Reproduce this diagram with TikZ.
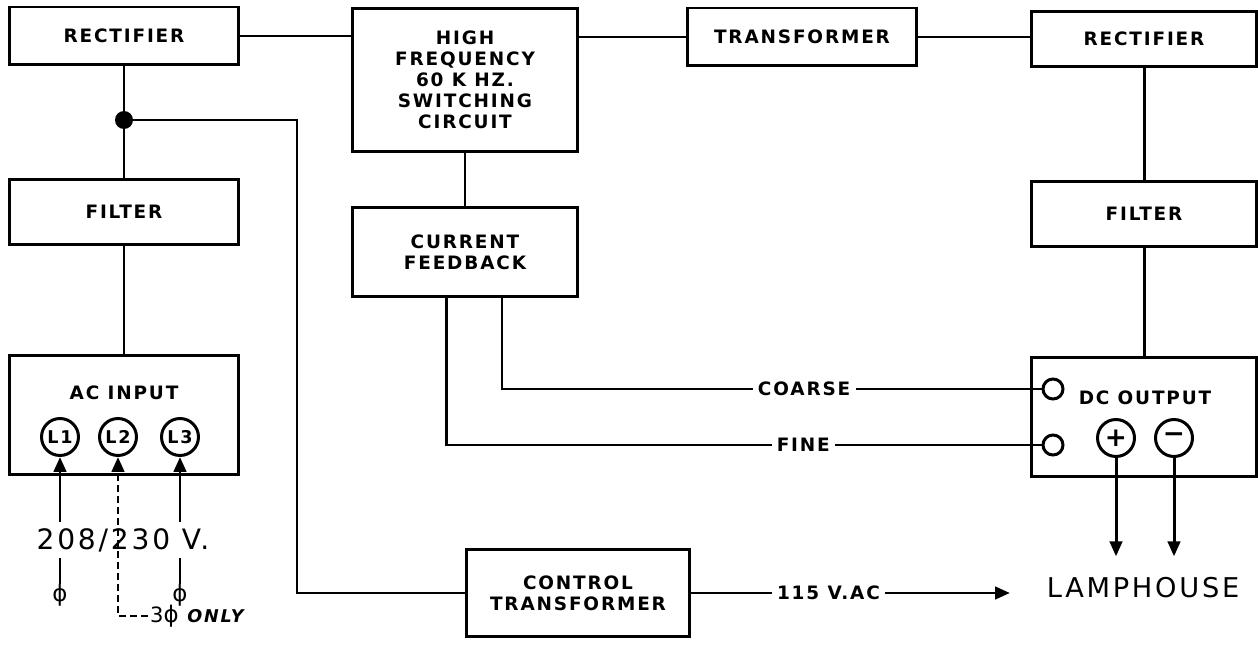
\documentclass[tikz,border=0pt]{standalone}
\usepackage{fontspec}
\setmainfont{DejaVu Sans}[LetterSpace=10]
\usepackage{tikz}
\usetikzlibrary{arrows.meta}
\newcommand{\lbl}{\bfseries\fontsize{10.5}{12}\selectfont}
\tikzstyle{block} = [rectangle, draw=black, line width=1.7pt, align=center, inner sep=0pt, font=\lbl]
\tikzstyle{wire} = [line width=1.7pt]
\tikzstyle{arrow} = [line width=1.7pt, -{Triangle[length=0.3cm, width=0.25cm]}]
\tikzstyle{term} = [circle, draw=black, line width=1.7pt, inner sep=0pt, minimum size=0.74cm, font=\bfseries\fontsize{10}{10}\selectfont]
\tikzstyle{tap} = [circle, draw=black, fill=white, line width=1.7pt, inner sep=0pt, minimum size=0.4cm]
\tikzstyle{tag} = [fill=white, inner sep=3pt, font=\lbl]
\tikzstyle{phase} = [inner sep=0pt, font=\fontsize{13}{13}\selectfont]

\begin{document}
\begin{tikzpicture}[x=0.02cm, y=-0.02cm]
	\useasboundingbox (0,0) rectangle (1258,645);
	% input side
	\node (rectl) [block, minimum width=4.6cm, minimum height=1.16cm] at (124,36) {RECTIFIER};
	\node (filtl) [block, minimum width=4.6cm, minimum height=1.3cm] at (124,212) {FILTER};
	\node (acin) [block, minimum width=4.6cm, minimum height=2.4cm] at (124,415) {};
	\node (aclbl) [font=\lbl] at (124,393) {AC INPUT};
	\node (l1) [term] at (60,437) {L1};
	\node (l2) [term] at (118,437) {L2};
	\node (l3) [term] at (180,437) {L3};
	\node (dot) [circle, fill=black, inner sep=0pt, minimum size=0.36cm] at (124,120) {};
	\draw [wire] (rectl) -- (filtl);
	\draw [wire] (filtl) -- (acin);
	\node (volt) [font=\fontsize{16}{18}\selectfont, inner ysep=0.12cm] at (123,540) {208/230 V.};
	\node (ph1) [phase] at (60,595) {ϕ};
	\node (ph3) [phase] at (180,595) {ϕ};
	\node (only) [anchor=west, inner sep=1pt] at (148,616) {\fontsize{12}{13}\selectfont 3{\fontsize{13}{13}\selectfont ϕ} \fontsize{10}{10}\selectfont\itshape\bfseries ONLY};
	\draw [arrow] (ph1 |- volt.north) -- (l1);
	\draw [wire] (ph1) -- (ph1 |- volt.south);
	\draw [arrow] (ph3 |- volt.north) -- (l3);
	\draw [wire] (ph3) -- (ph3 |- volt.south);
	\draw [arrow, dash pattern=on 0.14cm off 0.08cm] (only.west) -| (l2);
	% switching stage
	\node (hf) [block, minimum width=4.52cm, minimum height=2.88cm] at (465,80) {HIGH\\FREQUENCY\\60 K HZ.\\SWITCHING\\CIRCUIT};
	\node (cfb) [block, minimum width=4.52cm, minimum height=1.78cm] at (465,252) {CURRENT\\FEEDBACK};
	\node (trans) [block, minimum width=4.58cm, minimum height=1.16cm] at (802,37) {TRANSFORMER};
	\draw [wire] (rectl.east) -- (rectl.east -| hf.west);
	\draw [wire] (hf.east |- trans.west) -- (trans.west);
	\draw [wire] (hf) -- (cfb);
	% output side
	\node (rectr) [block, minimum width=4.5cm, minimum height=1.1cm] at (1144,39) {RECTIFIER};
	\node (filtr) [block, minimum width=4.52cm, minimum height=1.3cm] at (1144,214) {FILTER};
	\node (dcout) [block, minimum width=4.5cm, minimum height=2.38cm] at (1144,417) {};
	\node (dclbl) [font=\lbl] at (1145,398) {DC OUTPUT};
	\node (plus) [term, font=\bfseries\fontsize{15}{15}\selectfont] at (1116,438) {+};
	\node (minus) [term, font=\bfseries\fontsize{15}{15}\selectfont] at (1174,438) {−};
	\node (coarse) [tap] at (1053,389) {};
	\node (fine) [tap] at (1053,445) {};
	\draw [wire] (trans.east) -- (trans.east -| rectr.west);
	\draw [wire] (rectr) -- (filtr);
	\draw [wire] (filtr) -- (dcout);
	\draw [wire] ([xshift=0.74cm]cfb.south) |- (coarse) node[tag, pos=0.78] {COARSE};
	\draw [wire] ([xshift=-0.38cm]cfb.south) |- (fine) node[tag, pos=0.8] {FINE};
	\node (lamp) [font=\fontsize{15.5}{18}\selectfont, inner ysep=0.42cm] at (1143,588) {LAMPHOUSE};
	\draw [arrow] (plus) -- (plus |- lamp.north);
	\draw [arrow] (minus) -- (minus |- lamp.north);
	% control supply
	\node (ctrl) [block, minimum width=4.48cm, minimum height=1.74cm] at (578,593) {CONTROL\\TRANSFORMER};
	\coordinate (bend) at (297,593);
	\coordinate (lampin) at (1010,593);
	\draw [wire] (dot) -| (bend) -- (ctrl.west);
	\draw [arrow] (ctrl.east) -- (lampin) node[tag, pos=0.43] {115 V.AC};
\end{tikzpicture}
\end{document}
